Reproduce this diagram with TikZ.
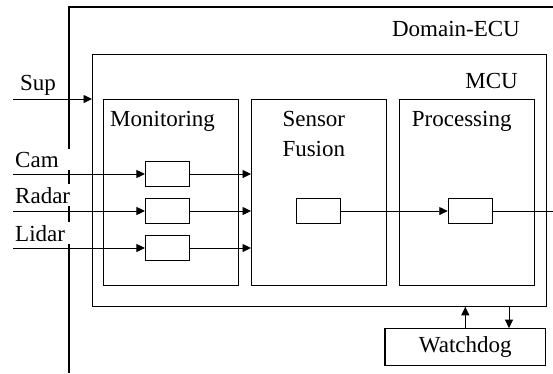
\documentclass[tikz,border=0pt]{standalone}
\usepackage{fontspec}
\setmainfont{Liberation Serif}
\usetikzlibrary{arrows.meta}
\begin{document}
\begin{tikzpicture}[x=1pt,y=-1pt, font=\fontsize{23}{30}\selectfont\rmfamily,
  frame/.style={draw, line width=1.1pt},
  boxn/.style={draw, line width=1.1pt, anchor=north west, inner sep=0pt},
  blk/.style={draw, line width=1.1pt, minimum width=44pt, minimum height=24.5pt, inner sep=0pt},
  conn/.style={line width=0.8pt, -{Triangle[length=8.5pt,width=8pt]}},
  plain/.style={line width=0.8pt},
  lbl/.style={anchor=base west, inner sep=0pt},
  inlbl/.style={anchor=base west, fill=white, inner sep=3pt, text width=57pt, align=left}]
\useasboundingbox (0,0) rectangle (553,373);
% Domain-ECU (partially shown)
\coordinate (ecubl) at (69,373);
\coordinate (ecutl) at (69,7);
\coordinate (ecutr) at (553,7);
\draw[frame] (ecubl) -- (ecutl) -- (ecutr);
\node[lbl, anchor=base east] (ecul) at (520,36) {Domain-ECU};
% MCU
\node[boxn, minimum width=453.7pt, minimum height=251.7pt] (mcu) at (92,54) {};
\node[lbl, anchor=base east] (mcul) at (518,88.3) {MCU};
% inner blocks
\node[boxn, minimum width=134.7pt, minimum height=186pt] (mon) at (103,99) {};
\node[boxn, minimum width=135pt, minimum height=186pt] (fus) at (251,99) {};
\node[boxn, minimum width=135pt, minimum height=186pt] (proc) at (399.3,99) {};
\node[lbl] (monl) at (110,126.7) {Monitoring};
\node[lbl] (fusl1) at (282.3,126.7) {Sensor};
\node[lbl] (fusl2) at (282.3,156.7) {Fusion};
\node[lbl] (procl) at (411.7,126.7) {Processing};
% small blocks
\node[blk] (cam) at (167.5,174) {};
\node[blk] (rad) at (167.5,211) {};
\node[blk] (lid) at (167.5,248) {};
\node[blk] (sfb) at (318.7,211) {};
\node[blk] (pb) at (470.3,211) {};
% watchdog
\node[draw, line width=1.1pt, minimum width=160.7pt, minimum height=37pt, inner sep=0pt] (wd) at (465.3,347.2) {Watchdog};
% input labels
\node[lbl] (supl) at (20,90.7) {Sup};
\node[inlbl] (caml) at (12,167) {Cam};
\node[inlbl] (radl) at (12,203) {Radar};
\node[inlbl] (lidl) at (12,241) {Lidar};
% connectors
\coordinate (supin) at (13,99);
\coordinate (camin) at (13,174);
\coordinate (radin) at (13,211);
\coordinate (lidin) at (13,248);
\coordinate (out) at (553,211);
\draw[conn] (supin) -- (supin -| mcu.west);
\draw[conn] (camin) -- (cam.west);
\draw[conn] (radin) -- (rad.west);
\draw[conn] (lidin) -- (lid.west);
\draw[conn] (cam.east) -- (cam.east -| fus.west);
\draw[conn] (rad.east) -- (rad.east -| fus.west);
\draw[conn] (lid.east) -- (lid.east -| fus.west);
\draw[conn] (sfb.east) -- (pb.west);
\draw[plain] (pb.east) -- (out);
\draw[conn] (wd.north) -- (wd.north |- mcu.south);
\draw[conn] ([xshift=43.7pt]wd.north |- mcu.south) -- ([xshift=43.7pt]wd.north);
\end{tikzpicture}
\end{document}
